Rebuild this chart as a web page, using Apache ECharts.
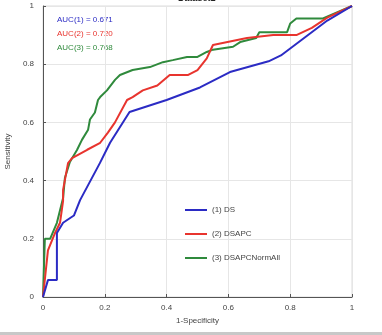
<!DOCTYPE html>
<html>
<head>
<meta charset="utf-8">
<script src="https://cdn.jsdelivr.net/npm/echarts@6/dist/echarts.min.js"></script>
<style>
  html, body { margin: 0; padding: 0; background: #fff; }
  #chart { width: 382px; height: 335px; }
</style>
</head>
<body>
<div id="chart"></div>
<script>
// ROC curves: [1-specificity, sensitivity] pairs per method
const seriesNames = ['(1) DS', '(2) DSAPC', '(3) DSAPCNormAll'];
const aucValues = [0.671, 0.720, 0.768];
const axisTicks = [0, 0.2, 0.4, 0.6, 0.8, 1];

const rocDS = [
  [0, 0], [0.016, 0.058], [0.045, 0.058], [0.045, 0.22], [0.065, 0.255],
  [0.10, 0.28], [0.12, 0.333], [0.184, 0.46], [0.217, 0.53], [0.28, 0.636],
  [0.40, 0.677], [0.508, 0.72], [0.605, 0.773], [0.73, 0.81], [0.77, 0.83],
  [0.92, 0.95], [1, 1]
];
const rocDSAPC = [
  [0, 0], [0.016, 0.16], [0.039, 0.22], [0.055, 0.255], [0.065, 0.33],
  [0.065, 0.368], [0.081, 0.46], [0.094, 0.477], [0.143, 0.506], [0.185, 0.53],
  [0.21, 0.565], [0.233, 0.6], [0.272, 0.677], [0.29, 0.687], [0.323, 0.71],
  [0.37, 0.727], [0.41, 0.763], [0.47, 0.763], [0.5, 0.78], [0.53, 0.82],
  [0.55, 0.866], [0.66, 0.89], [0.745, 0.9], [0.82, 0.9], [0.87, 0.925],
  [0.92, 0.96], [1, 1]
];
const rocDSAPCNormAll = [
  [0, 0], [0.006, 0.2], [0.023, 0.2], [0.045, 0.255], [0.065, 0.34],
  [0.071, 0.41], [0.087, 0.464], [0.11, 0.505], [0.126, 0.54], [0.146, 0.575],
  [0.152, 0.61], [0.168, 0.634], [0.178, 0.677], [0.185, 0.687], [0.207, 0.71],
  [0.233, 0.746], [0.249, 0.763], [0.29, 0.78], [0.346, 0.79], [0.388, 0.807],
  [0.42, 0.814], [0.466, 0.825], [0.5, 0.825], [0.53, 0.842], [0.55, 0.85],
  [0.615, 0.86], [0.638, 0.876], [0.69, 0.89], [0.7, 0.91], [0.79, 0.91],
  [0.8, 0.94], [0.82, 0.957], [0.906, 0.957], [1, 1]
];

const curves = [rocDS, rocDSAPC, rocDSAPCNormAll];
const colors = ['#2b2bc4', '#e8342e', '#2f8a3c'];

const chart = echarts.init(document.getElementById('chart'));

const axisCommon = {
  type: 'value',
  min: 0,
  max: 1,
  interval: 0.2,
  axisLine: { show: true, lineStyle: { color: '#555', width: 1 } },
  axisTick: { show: true, inside: true, length: 3, lineStyle: { color: '#555' } },
  splitLine: { show: true, lineStyle: { color: '#e6e6e6', width: 1 } },
  axisLabel: {
    color: '#444', fontSize: 8, fontFamily: 'Liberation Sans',
    formatter: v => String(+v.toFixed(1))
  },
  nameTextStyle: { color: '#444', fontSize: 8, fontFamily: 'Liberation Sans' }
};

chart.setOption({
  animation: false,
  backgroundColor: '#ffffff',
  grid: {
    left: 43, right: 30, top: 6, bottom: 38,
    containLabel: false, outerBoundsMode: 'none',
    show: true, borderColor: '#dddddd', borderWidth: 1
  },
  xAxis: Object.assign({}, axisCommon, {
    name: '1-Specificity', nameLocation: 'middle', nameGap: 20,
    axisLabel: Object.assign({}, axisCommon.axisLabel, { margin: 7 })
  }),
  yAxis: Object.assign({}, axisCommon, {
    name: 'Sensitivity', nameLocation: 'middle', nameGap: 26,
    axisLabel: Object.assign({}, axisCommon.axisLabel, { margin: 9 })
  }),
  legend: {
    orient: 'vertical',
    left: 180,
    top: 201,
    itemWidth: 22,
    itemHeight: 2,
    itemGap: 16,
    icon: 'rect',
    textStyle: { color: '#444', fontSize: 8, fontFamily: 'Liberation Sans' },
    data: seriesNames.map((n, i) => ({ name: n, itemStyle: { color: colors[i] } }))
  },
  graphic: [
    {
      type: 'text', left: 178, top: -6,
      style: { text: 'Dataset1', fill: '#222', font: 'bold 9px Liberation Sans' }
    },
    {
      type: 'rect', left: 0, top: 332,
      shape: { width: 382, height: 3 },
      style: { fill: '#c8c8c8' }
    }
  ].concat(aucValues.map((a, i) => ({
    type: 'text', left: 57, top: 16 + i * 14,
    style: {
      text: 'AUC(' + (i + 1) + ') = ' + a.toFixed(3),
      fill: colors[i], font: '8px Liberation Sans'
    }
  }))),
  series: curves.map((d, i) => ({
    name: seriesNames[i],
    type: 'line',
    data: d,
    symbol: 'none',
    color: colors[i],
    lineStyle: { color: colors[i], width: 2 },
    z: 3 - i
  }))
});
</script>
</body>
</html>
